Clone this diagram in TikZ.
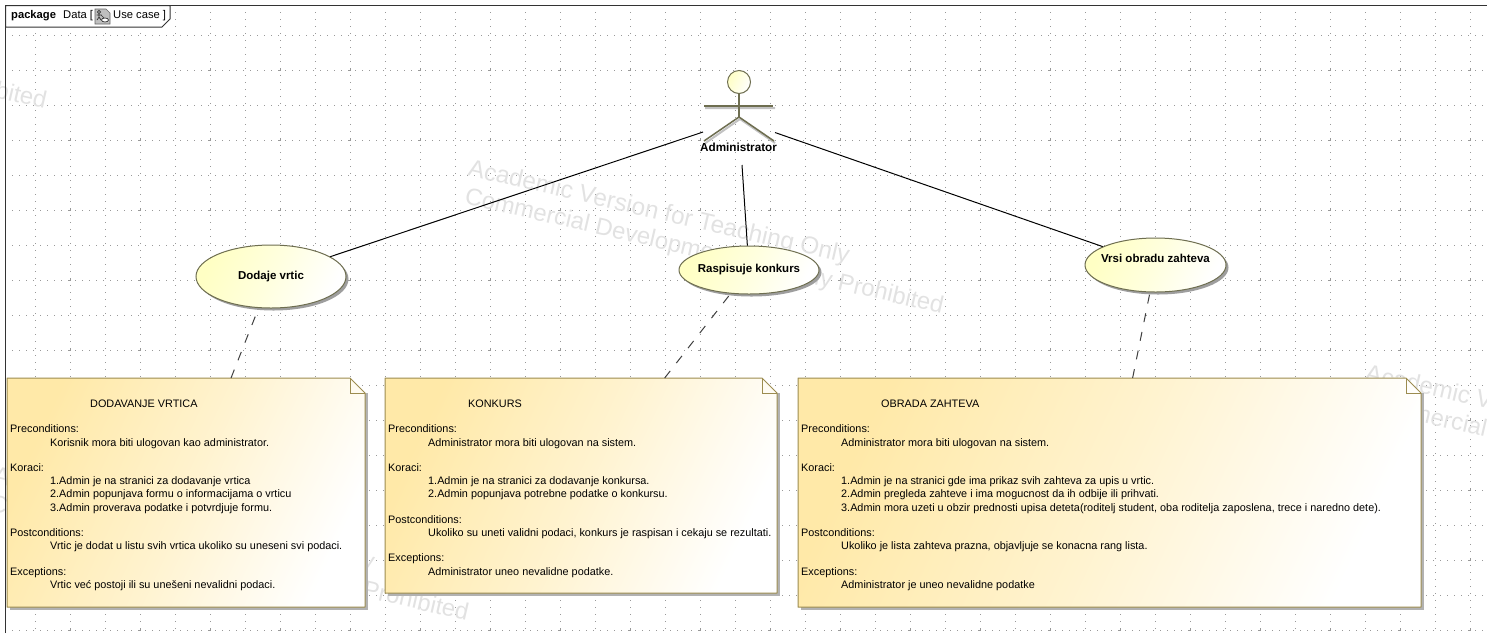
\documentclass[tikz,border=0pt]{standalone}
\usepackage{fontspec}
\setmainfont{Liberation Sans}
\usetikzlibrary{shapes.geometric,shadows}
\definecolor{wm}{HTML}{E2E2E2}
\definecolor{griddot}{HTML}{999999}
\definecolor{olive}{HTML}{6E6E50}
\definecolor{noteedge}{HTML}{9C8C50}
\definecolor{notecol}{HTML}{FFE9A8}
\definecolor{usecol}{HTML}{FFFFC4}
\tikzset{
  wmark/.style={text=wm,font=\fontsize{24.3}{28}\selectfont,rotate=-13,align=left,anchor=north west,inner sep=0pt},
  gridline/.style={griddot,line width=0.8pt,dash pattern=on 0.9pt off 6.1pt},
  usecase/.style={ellipse,draw=olive,line width=1pt,inner sep=0pt,left color=usecol,right color=white,middle color=usecol!55!white,shading angle=65,
    drop shadow={shadow xshift=2.5pt,shadow yshift=-2.5pt,opacity=1,fill=black!38},
    font=\fontsize{11.5}{13}\selectfont\bfseries},
  assoc/.style={black,line width=1pt},
  notelink/.style={black!75,line width=1pt,dash pattern=on 9pt off 10pt},
  notetext/.style={anchor=north west,inner sep=0pt,align=left,font=\fontsize{10.85}{13.3}\selectfont},
  anchorbox/.style={inner sep=0pt,outer sep=0pt},
  stick/.style={olive,line width=1.5pt},
  stickshadow/.style={black!24,line width=2pt},
  tabtext/.style={anchor=base west,inner sep=0pt,font=\fontsize{11.2}{12}\selectfont},
}
\newcommand{\notebox}[5]{% name x1 y1 x2 y2
  \fill[black!30] (#2+3,#3+15) -- (#4+3,#3+15) -- (#4+3,#5+3) -- (#2+3,#5+3) -- cycle;
  \path[left color=notecol,right color=white,middle color=notecol!55!white,shading angle=65] (#2,#3) -- (#4-15,#3) -- (#4,#3+15) -- (#4,#5) -- (#2,#5) -- cycle;
  \draw[noteedge,line width=1pt,line join=round] (#2,#3) -- (#4-15,#3) -- (#4,#3+15) -- (#4,#5) -- (#2,#5) -- cycle;
  \draw[noteedge,line width=1pt] (#4-15,#3) -- (#4-15,#3+15) -- (#4,#3+15);
  \node[anchorbox,minimum width=#4-#2,minimum height=#5-#3] (#1) at ({(#2+#4)/2},{(#3+#5)/2}) {};
}
\newcommand{\ind}{\hspace*{40pt}}
\newcommand{\ttl}{\hspace*{80pt}}
\newcommand{\ulabel}[2]{\makebox[0pt]{\smash{\raisebox{#1}{#2}}}}
\begin{document}
\begin{tikzpicture}[x=1pt,y=-1pt]
\useasboundingbox (0,0) rectangle (1487,633);
\clip (0,0) rectangle (1487,633);
\fill[white] (0,0) rectangle (1487,633);
% grid
\foreach \k in {1,...,18} { \draw[gridline] (5,35*\k) -- (1487,35*\k); }
\foreach \k in {1,...,42} { \draw[gridline] (35*\k,5) -- (35*\k,633); }
\foreach \i in {1,...,21} { \foreach \j in {1,...,9} {
  \fill[griddot] (70*\i-1.4,70*\j-0.4) rectangle (70*\i+1.4,70*\j+0.4);
  \fill[griddot] (70*\i-0.4,70*\j-1.4) rectangle (70*\i+0.4,70*\j+1.4);
}}
% watermark
\foreach \dx/\dy in {0/0,-897/-205,897/205,-475/307} {
  \node[wmark] (wm\dx) at (471+\dx,158+\dy) {Academic Version for Teaching Only\\\hspace*{3pt}{\fontsize{23.85}{28}\selectfont Commercial Development is Strictly Prohibited}};
}
% frame
\draw[black!80,line width=1.2pt] (5.5,633) -- (5.5,5.5) -- (1487,5.5);
\draw[black!80,line width=1pt,fill=white] (5.5,5.5) -- (170,5.5) -- (170,19) -- (162,27) -- (5.5,27) -- cycle;
\node[tabtext,font=\fontsize{11.2}{12}\selectfont\bfseries] (pk) at (11,18.5) {package};
\node[tabtext] (dt) at (63,18.5) {Data [};
\node[tabtext] (uc) at (113,18.5) {Use case ]};
% icon
\fill[black!25] (95,9) -- (106,9) -- (110,13) -- (110,24) -- (95,24) -- cycle;
\draw[black!60,line width=0.7pt] (95,9) -- (106,9) -- (110,13) -- (110,24) -- (95,24) -- cycle;
\draw[black!80,line width=0.7pt] (99,12) circle (1.6) (99,13.6) -- (99,17) (96.5,15) -- (101.5,15) (99,17) -- (97,20) (99,17) -- (101,20);
\draw[black!80,line width=0.7pt,fill=white] (105,20) ellipse (3.5 and 2);
\draw[black!80,line width=0.5pt] (101,15) -- (104,18);
% actor
\node[anchorbox,minimum width=72pt,minimum height=90pt] (actor) at (739,120) {};
\draw[stickshadow] (705,108) -- (775,108) (740,119) -- (705.5,143) (740,119) -- (775,143);
\node[circle,draw=olive,line width=1pt,left color=usecol,right color=white,shading angle=65,minimum size=23pt,inner sep=0pt] (head) at (739,82) {};
\draw[stick] (head.south) -- (739,117) coordinate (hip);
\coordinate (armL) at (704,106); \coordinate (armR) at (773,106);
\coordinate (legL) at (704,141); \coordinate (legR) at (774,141);
\draw[stick] (armL) -- (armR);
\draw[stick] (legL) -- (hip) -- (legR);
\node[font=\fontsize{11.7}{13}\selectfont\bfseries,inner sep=0pt] (actorlabel) at (738.5,147) {Administrator};
% use cases
\node[usecase,minimum width=150pt,minimum height=63pt] (uc1) at (271,276.5) {\ulabel{-2.5pt}{Dodaje vrtic}};
\node[usecase,minimum width=140pt,minimum height=48pt] (uc2) at (749,270) {\ulabel{-2pt}{Raspisuje konkurs}};
\node[usecase,minimum width=141pt,minimum height=54pt] (uc3) at (1155.5,265) {\ulabel{3pt}{Vrsi obradu zahteva}};
% notes
\notebox{n1}{7}{378}{365}{607}
\notebox{n2}{385}{378}{777}{593}
\notebox{n3}{798}{378}{1421}{607}
\node[notetext] (t1) at (10,399.7) {\ttl DODAVANJE VRTICA\\[12pt]
Preconditions:\\
\ind Korisnik mora biti ulogovan kao administrator.\\[12pt]
Koraci:\\
\ind 1.Admin je na stranici za dodavanje vrtica\\
\ind 2.Admin popunjava formu o informacijama o vrticu\\
\ind 3.Admin proverava podatke i potvrdjuje formu.\\[12pt]
Postconditions:\\
\ind Vrtic je dodat u listu svih vrtica ukoliko su uneseni svi podaci.\\[12pt]
Exceptions:\\
\ind Vrtic već postoji ili su unešeni nevalidni podaci.};
\node[notetext] (t2) at (388,399.7) {\ttl KONKURS\\[12pt]
Preconditions:\\
\ind Administrator mora biti ulogovan na sistem.\\[12pt]
Koraci:\\
\ind 1.Admin je na stranici za dodavanje konkursa.\\
\ind 2.Admin popunjava potrebne podatke o konkursu.\\[12pt]
Postconditions:\\
\ind Ukoliko su uneti validni podaci, konkurs je raspisan i cekaju se rezultati.\\[12pt]
Exceptions:\\
\ind Administrator uneo nevalidne podatke.};
\node[notetext] (t3) at (801,399.7) {\ttl OBRADA ZAHTEVA\\[12pt]
Preconditions:\\
\ind Administrator mora biti ulogovan na sistem.\\[12pt]
Koraci:\\
\ind 1.Admin je na stranici gde ima prikaz svih zahteva za upis u vrtic.\\
\ind 2.Admin pregleda zahteve i ima mogucnost da ih odbije ili prihvati.\\
\ind 3.Admin mora uzeti u obzir prednosti upisa deteta(roditelj student, oba roditelja zaposlena, trece i naredno dete).\\[12pt]
Postconditions:\\
\ind Ukoliko je lista zahteva prazna, objavljuje se konacna rang lista.\\[12pt]
Exceptions:\\
\ind Administrator je uneo nevalidne podatke};
% connectors
\draw[assoc] (actor) -- (uc1);
\draw[assoc] (actor) -- (uc2);
\draw[assoc] (actor) -- (uc3);
\draw[notelink] (n1) -- (uc1);
\draw[notelink] (n2) -- (uc2);
\draw[notelink] (n3) -- (uc3);
\end{tikzpicture}
\end{document}
